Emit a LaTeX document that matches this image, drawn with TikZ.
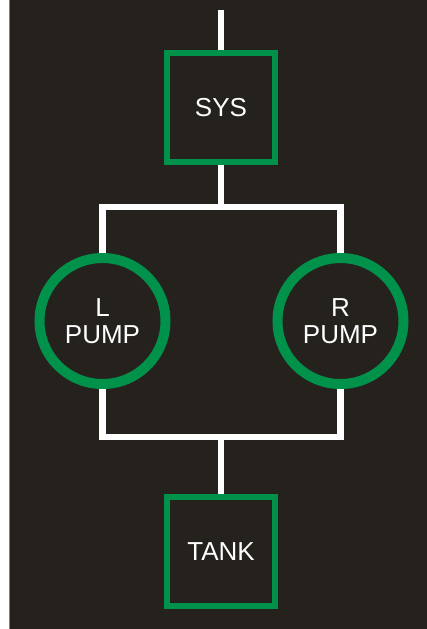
\documentclass[tikz,border=0pt]{standalone}
\usepackage{fontspec}
\setmainfont{Liberation Sans}
\usepackage{tikz}
\usetikzlibrary{positioning}
\definecolor{panel}{HTML}{25221E}
\definecolor{pumpgreen}{HTML}{00924A}

\begin{document}
\begin{tikzpicture}[x=0.5pt,y=-0.5pt,font=\fontsize{13}{13.5}\selectfont,
  pipe/.style={draw=white,line width=3.3pt},
  unitbox/.style={draw=pumpgreen,line width=3pt,fill=panel,text=white,
    minimum width=54pt,minimum height=54.5pt,inner sep=0pt},
  pumpring/.style={circle,draw=pumpgreen,line width=5pt,fill=panel,text=white,
    minimum size=63pt,inner sep=0pt,align=center}]
  \useasboundingbox (0,0) rectangle (427,629);
  % dark panel with a thin edge on the left
  \fill[panel] (9.5,0) rectangle (427,629);
  \draw[gray,line width=0.5pt] (9.5,0) -- (9.5,629);

  \node[unitbox] (sys) at (221,107.5) {SYS};
  \node[pumpring] (lpump) at (102.5,321) {L\\PUMP};
  \node[pumpring] (rpump) at (340.5,321) {R\\PUMP};
  \node[unitbox] (tank) at (221,551.5) {TANK};

  % junctions of the pipe runs
  \coordinate (feed) at (221,10);
  \coordinate (jtop) at (221,207);
  \coordinate (jbot) at (221,437);

  \draw[pipe] (feed) -- (sys.north);
  \draw[pipe] (sys.south) -- (jtop);
  \draw[pipe] (lpump.north) |- (jtop) -| (rpump.north);
  \draw[pipe] (lpump.south) |- (jbot) -| (rpump.south);
  \draw[pipe] (jbot) -- (tank.north);
\end{tikzpicture}
\end{document}
